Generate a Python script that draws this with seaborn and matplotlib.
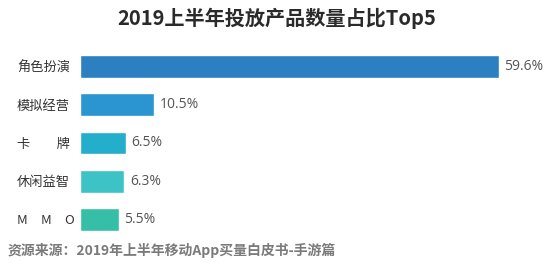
import matplotlib
matplotlib.use("Agg")
import matplotlib.pyplot as plt
import seaborn as sns
import pandas as pd

categories = ["角色扮演", "模拟经营", "卡　　牌", "休闲益智", "M　M　O"]
values = [59.6, 10.5, 6.5, 6.3, 5.5]
value_labels = ["59.6%", "10.5%", "6.5%", "6.3%", "5.5%"]
colors = ["#2C7FC0", "#2A95D0", "#23AECB", "#3DC3C6", "#36BFA7"]
title = "2019上半年投放产品数量占比Top5"
source = "资源来源：2019年上半年移动App买量白皮书-手游篇"

sns.set_theme(style="white")
plt.rcParams['font.family'] = ['Noto Sans CJK SC', 'DejaVu Sans']

df = pd.DataFrame({"cat": categories, "val": values})

fig = plt.figure(figsize=(5.54, 2.70), dpi=100)
ax = fig.add_axes([80/554, (270-238.5)/270, 464/554, 191/270])
sns.barplot(data=df, x="val", y="cat", hue="cat", palette=colors, legend=False,
            width=0.6, ax=ax, saturation=1)
ax.set_xlim(0, 66)
ax.set_xlabel("")
ax.set_ylabel("")
ax.set_xticks([])
for s in ax.spines.values():
    s.set_visible(False)
ax.tick_params(axis='y', length=0, pad=63 / (100/72))
for lab in ax.get_yticklabels():
    lab.set_horizontalalignment('left')
    lab.set_fontsize(9.5)
    lab.set_color('#333333')

for cont, t in zip(ax.containers, value_labels):
    ax.bar_label(cont, labels=[t] * len(cont), padding=4, fontsize=10, color='#555555',
                 family=['Open Sans', 'DejaVu Sans'])

fig.text(0.5, 1 - 18/270, title, ha='center', va='center', fontsize=14.5,
         color='#2a2a2a', fontweight='bold')
fig.text(8/554, 1 - 250/270, source, ha='left', va='center', fontsize=10,
         color='#7a7a7a', fontweight='bold')
fig.savefig("out.png", dpi=100)
